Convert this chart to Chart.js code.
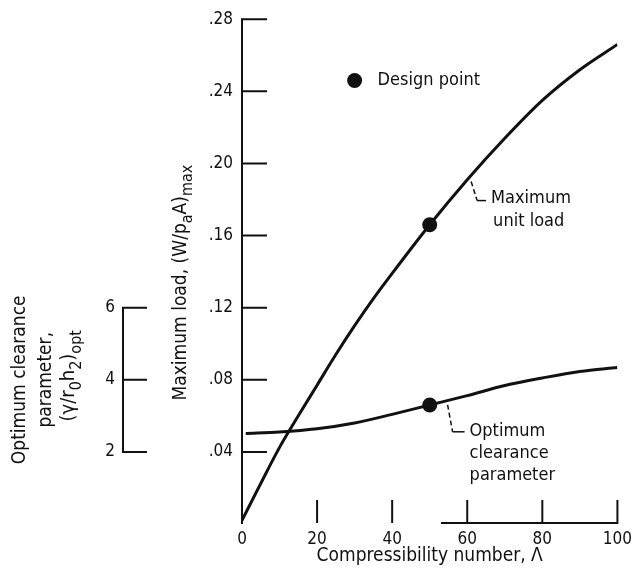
<!DOCTYPE html>
<html>
<head>
<meta charset="utf-8">
<script src="https://cdn.jsdelivr.net/npm/chart.js@4.4.1/dist/chart.umd.min.js"></script>
<style>
  html, body { margin: 0; padding: 0; background: #fff; }
  canvas { display: block; }
</style>
</head>
<body>
<canvas id="chart" width="637" height="572"></canvas>
<script>
// values
const loadLambda = [0, 5, 10, 15, 20, 25, 30, 35, 40, 50, 60, 70, 80, 90, 100];
const maxLoad = [0.002, 0.0225, 0.0425, 0.060, 0.077, 0.094, 0.110, 0.125, 0.139, 0.166, 0.191, 0.214, 0.235, 0.252, 0.266];

const clearLambda = [1, 10, 20, 30, 40, 50, 60, 70, 80, 90, 100];
const optClearance = [2.51, 2.55, 2.64, 2.80, 3.04, 3.30, 3.56, 3.84, 4.05, 4.23, 4.34];

const designLambda = [50];
const designLoad = [0.166];
const designClearance = [3.30];
const legendPoint = [30, 0.246];

const lambdaTicks = [0, 20, 40, 60, 80, 100];
const loadTicks = [0.04, 0.08, 0.12, 0.16, 0.20, 0.24, 0.28];
const clearanceTicks = [2, 4, 6];

const ink = '#111';
const fam = "'DejaVu Sans Condensed', 'Liberation Sans Narrow', 'DejaVu Sans', sans-serif";

Chart.defaults.font.family = fam;
Chart.defaults.font.size = 17;
Chart.defaults.color = ink;

function toPoints(xs, ys) {
  return xs.map((v, i) => ({ x: v, y: ys[i] }));
}

// linear lookup along a series, used to hang the leader lines on the curves
function valueAt(xs, ys, v) {
  for (let i = 1; i < xs.length; i++) {
    if (v <= xs[i]) {
      const t = (v - xs[i - 1]) / (xs[i] - xs[i - 1]);
      return ys[i - 1] + t * (ys[i] - ys[i - 1]);
    }
  }
  return ys[ys.length - 1];
}

// text with subscripts, centred on (cx, cy)
function richText(ctx, parts, cx, cy, size) {
  const big = size + 'px ' + fam;
  const small = Math.round(size * 0.82) + 'px ' + fam;
  let w = 0;
  parts.forEach(([t, sub]) => { ctx.font = sub ? small : big; w += ctx.measureText(t).width; });
  let xx = cx - w / 2;
  ctx.textAlign = 'left';
  ctx.textBaseline = 'alphabetic';
  parts.forEach(([t, sub]) => {
    ctx.font = sub ? small : big;
    ctx.fillText(t, xx, cy + size * 0.36 + (sub ? size * 0.32 : 0));
    xx += ctx.measureText(t).width;
  });
}

function rotatedText(ctx, parts, cx, cy, size) {
  ctx.save();
  ctx.translate(cx, cy);
  ctx.rotate(-Math.PI / 2);
  richText(ctx, parts, 0, 0, size);
  ctx.restore();
}

const axisMarks = {
  id: 'axisMarks',
  afterDraw(chart) {
    const { ctx, chartArea: a, scales: { x, y, y2 } } = chart;
    ctx.save();
    ctx.strokeStyle = ink;
    ctx.lineWidth = 2;
    ctx.beginPath();
    // load axis with inward ticks
    ctx.moveTo(a.left, y.getPixelForValue(0));
    ctx.lineTo(a.left, y.getPixelForValue(0.28) - 1);
    loadTicks.forEach(v => {
      const py = y.getPixelForValue(v);
      ctx.moveTo(a.left, py);
      ctx.lineTo(a.left + 25, py);
    });
    // short clearance axis
    const x2 = y2.right;
    ctx.moveTo(x2, y2.getPixelForValue(2) + 1);
    ctx.lineTo(x2, y2.getPixelForValue(6) - 1);
    clearanceTicks.forEach(v => {
      const py = y2.getPixelForValue(v);
      ctx.moveTo(x2, py);
      ctx.lineTo(x2 + 24, py);
    });
    // lambda ticks stand up from the base
    lambdaTicks.slice(1).forEach(v => {
      const px = x.getPixelForValue(v);
      ctx.moveTo(px, a.bottom - 24);
      ctx.lineTo(px, a.bottom - 1);
    });
    ctx.moveTo(x.getPixelForValue(53), a.bottom - 1);
    ctx.lineTo(x.getPixelForValue(100) + 1, a.bottom - 1);
    ctx.stroke();
    ctx.restore();
  }
};

const labels = {
  id: 'labels',
  afterDraw(chart) {
    const { ctx, chartArea: a, scales: { x, y, y2 } } = chart;
    ctx.save();
    ctx.fillStyle = ink;
    ctx.strokeStyle = ink;

    // axis titles with subscripts
    rotatedText(ctx, [['Maximum load, (W/p', 0], ['a', 1], ['A)', 0], ['max', 1]], 179, (a.top + a.bottom) / 2 + 11, 19);
    const midY2 = (y2.getPixelForValue(2) + y2.getPixelForValue(6)) / 2;
    rotatedText(ctx, [['Optimum clearance', 0]], 18, midY2, 19);
    rotatedText(ctx, [['parameter,', 0]], 44, midY2, 19);
    rotatedText(ctx, [['(γ/r', 0], ['0', 1], ['h', 0], ['2', 1], [')', 0], ['opt', 1]], 67, midY2 - 4, 20);

    ctx.font = '18px ' + fam;
    ctx.textAlign = 'left';
    ctx.textBaseline = 'middle';

    // legend entry
    const lx = x.getPixelForValue(legendPoint[0]);
    const ly = y.getPixelForValue(legendPoint[1]);
    ctx.fillText('Design point', lx + 23, ly);

    // leader for the load curve
    const mx = x.getPixelForValue(60.5);
    const my = y.getPixelForValue(valueAt(loadLambda, maxLoad, 60.5));
    ctx.lineWidth = 1.5;
    ctx.setLineDash([5, 3]);
    ctx.beginPath();
    ctx.moveTo(mx + 2, my + 4);
    ctx.lineTo(mx + 8, my + 23);
    ctx.stroke();
    ctx.setLineDash([]);
    ctx.beginPath();
    ctx.moveTo(mx + 8, my + 23);
    ctx.lineTo(mx + 17, my + 23);
    ctx.stroke();
    ctx.fillText('Maximum', mx + 22, my + 21);
    ctx.fillText('unit load', mx + 24, my + 44);

    // leader for the clearance curve
    const ox = x.getPixelForValue(54.5);
    const oy = y2.getPixelForValue(valueAt(clearLambda, optClearance, 54.5));
    ctx.setLineDash([5, 3]);
    ctx.beginPath();
    ctx.moveTo(ox + 1, oy + 4);
    ctx.lineTo(ox + 6, oy + 31);
    ctx.stroke();
    ctx.setLineDash([]);
    ctx.beginPath();
    ctx.moveTo(ox + 6, oy + 31);
    ctx.lineTo(ox + 18, oy + 31);
    ctx.stroke();
    ctx.fillText('Optimum', ox + 23, oy + 31);
    ctx.fillText('clearance', ox + 23, oy + 53);
    ctx.fillText('parameter', ox + 23, oy + 75);

    ctx.restore();
  }
};

new Chart(document.getElementById('chart'), {
  type: 'scatter',
  data: {
    datasets: [
      {
        label: 'Maximum unit load',
        data: toPoints(loadLambda, maxLoad),
        showLine: true,
        borderColor: ink,
        borderWidth: 3,
        pointRadius: 0,
        cubicInterpolationMode: 'monotone',
        yAxisID: 'y'
      },
      {
        label: 'Optimum clearance parameter',
        data: toPoints(clearLambda, optClearance),
        showLine: true,
        borderColor: ink,
        borderWidth: 3,
        pointRadius: 0,
        cubicInterpolationMode: 'monotone',
        yAxisID: 'y2'
      },
      {
        label: 'Design point (load)',
        data: toPoints(designLambda, designLoad),
        pointRadius: 7.5,
        backgroundColor: ink,
        borderWidth: 0,
        yAxisID: 'y'
      },
      {
        label: 'Design point (clearance)',
        data: toPoints(designLambda, designClearance),
        pointRadius: 7.5,
        backgroundColor: ink,
        borderWidth: 0,
        yAxisID: 'y2'
      },
      {
        label: 'Design point',
        data: [{ x: legendPoint[0], y: legendPoint[1] }],
        pointRadius: 7.5,
        backgroundColor: ink,
        borderWidth: 0,
        yAxisID: 'y'
      }
    ]
  },
  options: {
    responsive: false,
    animation: false,
    layout: { padding: { top: 18, right: 16, bottom: 0, left: 0 } },
    plugins: {
      legend: { display: false },
      tooltip: { enabled: false }
    },
    scales: {
      x: {
        type: 'linear',
        position: 'bottom',
        min: 0,
        max: 100,
        grid: { display: false, drawTicks: false },
        border: { display: false },
        afterBuildTicks: s => { s.ticks = lambdaTicks.map(v => ({ value: v })); },
        afterFit: s => { s.height = 48; },
        ticks: { padding: 5, maxRotation: 0 },
        title: { display: true, text: 'Compressibility number, Λ', font: { size: 19 }, padding: { top: 0, bottom: 5 } }
      },
      y: {
        type: 'linear',
        position: 'left',
        weight: 0,
        min: 0,
        max: 0.28,
        grid: { display: false, drawTicks: false },
        border: { display: false },
        afterBuildTicks: s => { s.ticks = loadTicks.map(v => ({ value: v })); },
        afterFit: s => { s.width = 119; },
        ticks: { padding: 9, callback: v => v.toFixed(2).replace(/^0/, '') }
      },
      y2: {
        type: 'linear',
        position: 'left',
        weight: 1,
        min: 0,
        max: 14,
        grid: { display: false, drawTicks: false },
        border: { display: false },
        afterBuildTicks: s => { s.ticks = clearanceTicks.map(v => ({ value: v })); },
        afterFit: s => { s.width = 123; },
        ticks: { padding: 8 }
      }
    }
  },
  plugins: [axisMarks, labels]
});
</script>
</body>
</html>
